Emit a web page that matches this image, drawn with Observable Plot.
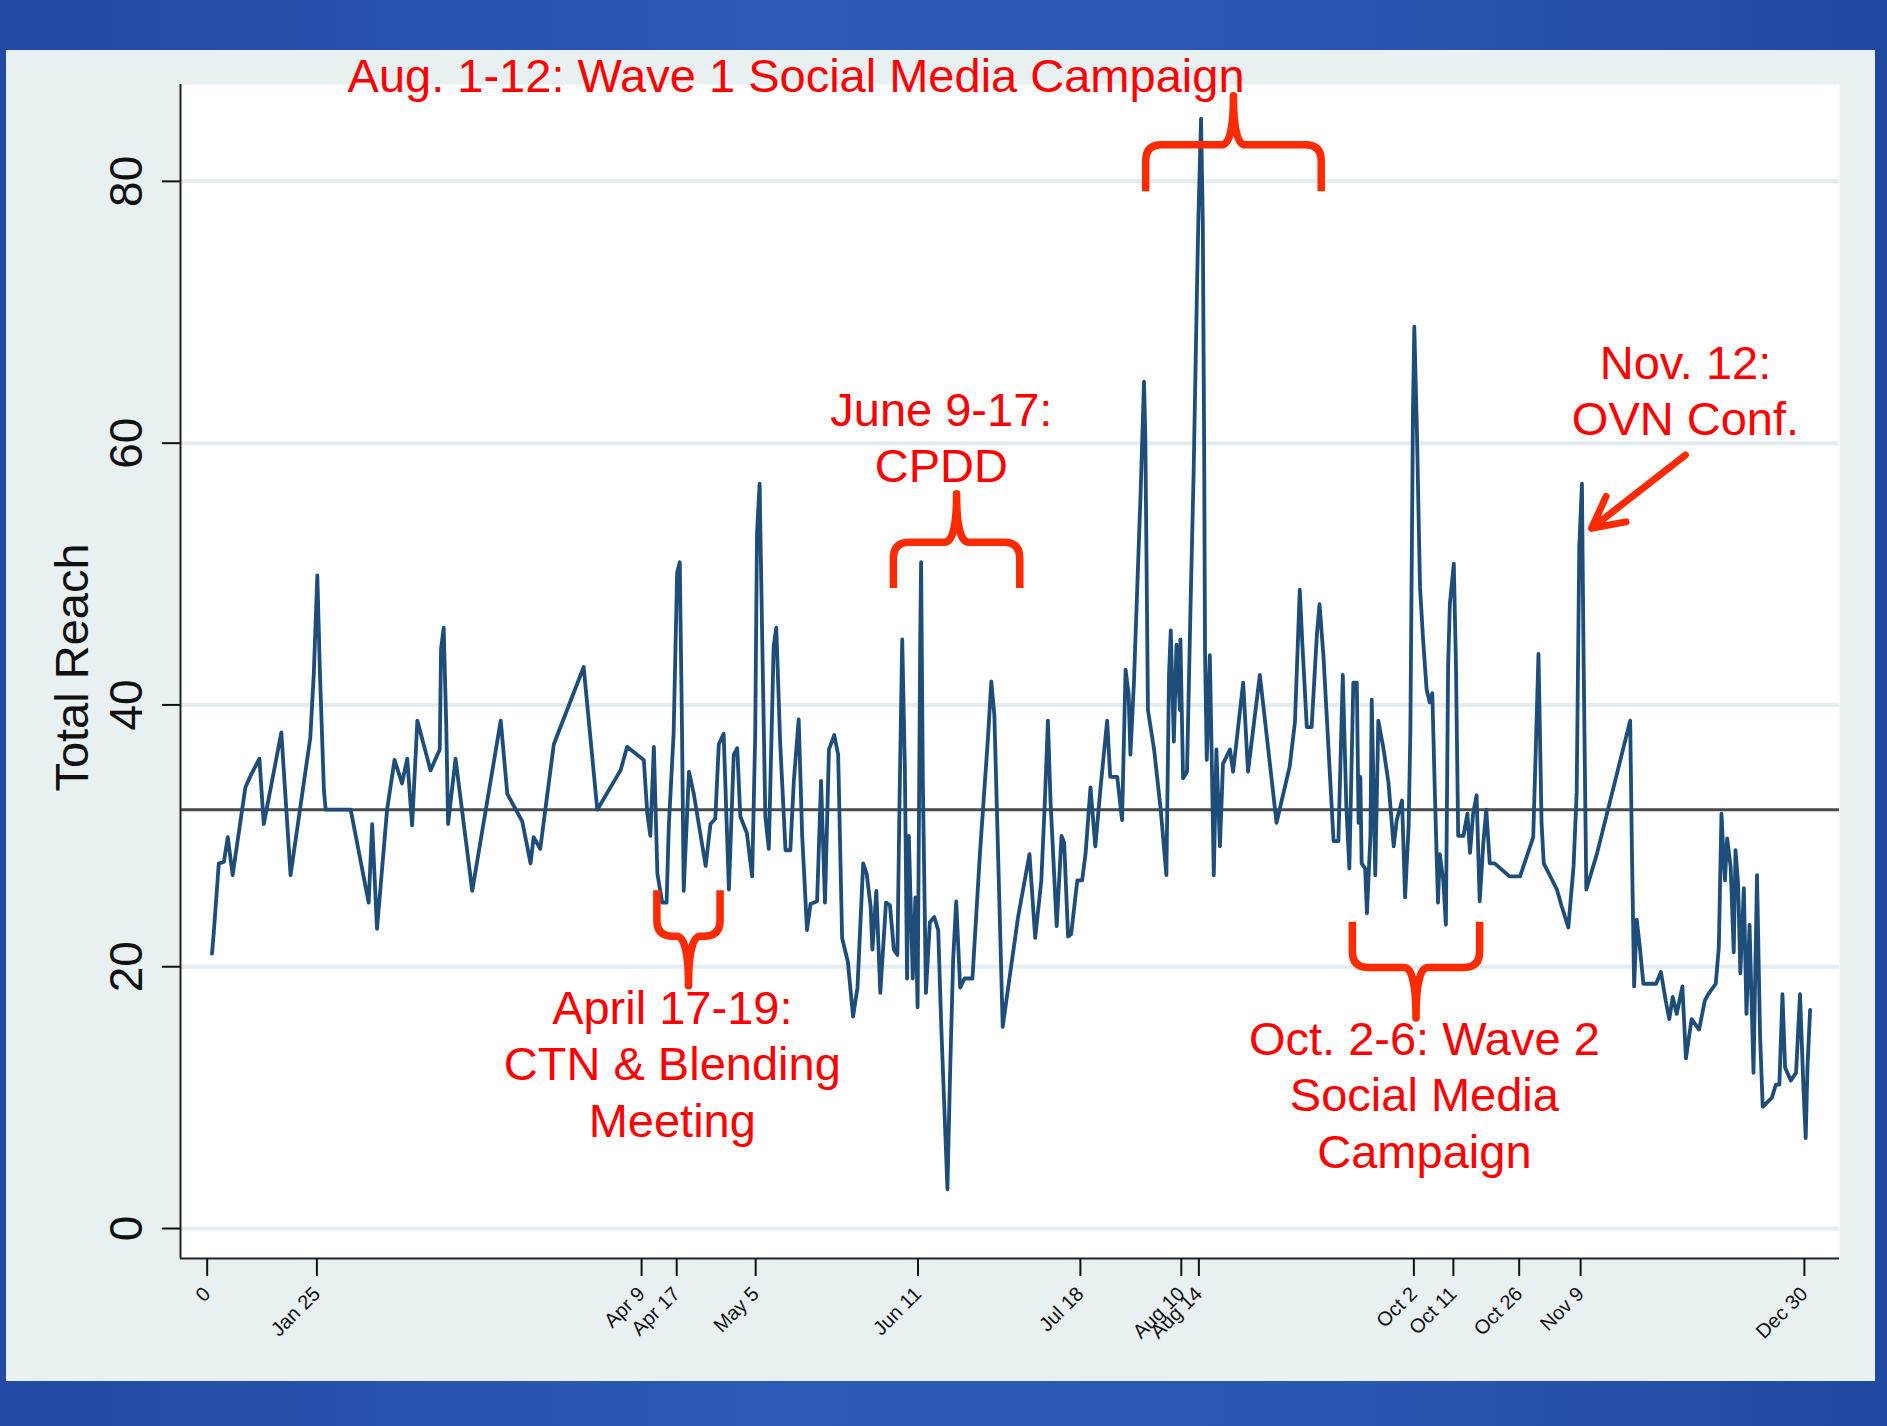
<!DOCTYPE html>
<html><head><meta charset="utf-8">
<script src="https://cdn.jsdelivr.net/npm/d3@7"></script>
<script src="https://cdn.jsdelivr.net/npm/@observablehq/plot@0.6"></script>
<style>
html,body{margin:0;padding:0;}
body{width:1887px;height:1426px;overflow:hidden;position:relative;background:linear-gradient(90deg,#2249a3 0%,#2c5ab6 40%,#2a57b2 70%,#2148a0 100%);font-family:"Liberation Sans",Arial,sans-serif;}
#panel{position:absolute;left:6px;top:50px;width:1869px;height:1331px;background:#e8f0f2;}
#chart{position:absolute;left:0;top:0;}
</style></head><body>
<div id="panel"></div><div id="chart"></div>
<script>
// Day of year (0 = Dec 31 of previous year) and total reach
const days = [1.1,1.5,2.65,3.8,4.7,5.8,8.7,9.9,11.9,12.9,16.9,19,23.5,24.3,25.1,25.7,26.6,27,32.7,36.8,37.6,38.7,41,42.7,44.4,45.6,46.7,47.9,50.9,53,53.3,53.9,54.5,54.9,56.6,60.4,66.9,
68.4,71.8,73.7,74.4,75.9,79,85.8,88.9,94.2,95.7,99.5,100.3,101,101.8,102.6,103.7,104.7,105.2,106.3,107.1,107.7,108.2,108.6,109.8,110.9,113.6,114.7,115.8,116.6,117.7,118.9,120,120.8,121.5,123,124.2,124.9,125.3,125.9,126.5,127.2,128,129.1,129.7,130.6,131.8,132.9,133.7,134.8,135.6,136.7,137.5,139,
139.9,140.8,141.7,142.9,143.8,144.7,146,147.2,148.2,149.5,150.3,151.2,151.6,152.5,153.4,154.7,155.6,156.5,157.3,157.8,158.4,159,159.5,159.9,160.8,161.4,161.9,162.5,162.7,163.1,163.8,164.7,165.7,166.6,167.3,168.7,169.3,170,170.7,171.6,172.6,174.4,176.1,177.9,178.7,179.4,181.3,182.2,184.8,187.4,188.7,190.1,190.9,191.6,192.2,193.6,
194.7,195.3,196.2,196.9,198.3,199.4,200.2,201.3,202.4,203.6,205.1,205.8,207.4,208.5,
209.3,210,210.4,211.2,211.9,212.7,213.5,213.8,214.4,215.8,217.3,218.6,219.2,219.6,220.3,220.9,221.7,221.8,222.4,223.3,224.1,224.8,225.6,225.9,226.5,226.9,227.2,227.4,227.8,228.5,228.9,229.4,230,230.8,231.5,233.1,233.8,236.1,237.2,239.9,243.7,246.7,247.9,249,249.6,250.6,251.7,252.9,253.5,254.4,256.7,257.8,258.8,259.6,260.3,261.2,262,262.4,262.8,263.1,263.9,264.3,265.1,265.4,266.2,266.9,268.1,269.2,270.4,271.1,272.3,273,273.8,274.2,274.8,275.1,275.7,276.4,
277.1,277.9,278.6,279.2,279.8,280.5,280.9,281.7,282.3,282.8,283.2,284.1,284.6,285.1,286.3,287.2,287.8,288.5,289.3,290,290.8,291.5,292.3,293.4,296.8,299.2,302.2,302.8,303.4,304.1,304.6,307.6,308.7,310.2,311.4,312.1,312.7,313.3,313.7,314.3,316.7,324.3,
324.7,325.2,325.8,326.5,327.3,330.2,331.3,332.4,333.2,334,334.9,336.2,337,338.3,340,341.3,342.1,343.8,344.5,345.1,345.5,345.9,346.4,347.2,347.9,348.3,348.9,349.4,350.2,350.8,351.5,352.4,353.2,353.9,354.5,355.4,356.6,357.5,358.3,359,359.6,360.9,362.1,363,363.8,364.3,364.7,365.3];
const reach = [21,22.6,27.9,28,29.9,27,33.7,34.6,35.9,30.9,37.9,27,37.5,42.4,49.9,42.4,33.5,32,32,24.9,30.9,22.9,32,35.8,34,35.9,30.8,38.8,35,36.6,44.3,45.9,38.2,30.9,35.9,25.8,38.8,
33.2,31.1,27.9,29.9,29,37,42.9,32,35,36.8,35.8,31.7,30,36.8,27.1,24.9,24.9,30.7,37.8,50.1,50.9,38.4,25.8,34.9,33.2,27.7,30.9,31.3,37,37.8,25.9,36.2,36.7,31.5,30.2,26.9,37.8,53.1,56.9,44.9,31.5,29,44.5,45.9,37,28.9,28.9,34.2,38.9,30,22.8,24.8,25,
34.2,24.9,36.6,37.7,36.2,22.2,20.4,16.2,18.4,27.9,27.1,24.6,21.3,25.8,18,24.9,24.7,21.3,20.9,33,45,35.2,19.1,30,19.1,25.3,16.9,45,50.9,34.1,18,23.4,23.8,22.8,15.4,3,11.8,20.5,25,18.4,19.1,19.1,28.6,37.3,41.8,39.2,15.4,17.6,23.8,28.6,22.2,26.6,32.6,38.8,32.6,23.1,
30,29.5,22.3,22.5,26.6,26.6,28.7,33.7,29.2,33.7,38.8,34.5,34.5,31.2,
42.7,40.8,36.2,41.7,48.4,55.9,64.7,60.5,39.6,36.6,32,27,42.3,45.7,37.2,44.6,39.6,45,34.4,34.9,47.5,57.6,72.3,77.3,84.8,76.9,60.1,44.2,35.8,43.8,36.6,27,36.6,29.2,35.5,36.6,34.9,41.7,34.9,42.3,31,35.3,38.7,48.8,44.6,38.3,38.3,45.4,47.7,43.7,29.6,29.6,42.3,32.3,27.5,41.7,41.7,31,34.5,27.9,27.5,24.1,30,40.4,27,38.8,36.6,34.1,29.2,31.2,32.7,25.3,30.7,37.9,62.6,68.9,60.9,49,
45,41.2,40.2,40.9,33.1,24.9,28.6,26.6,23.2,42.9,47.7,50.8,42.9,30,30,31.7,28.7,31.7,33.1,25,29.3,32,27.9,27.9,26.9,26.9,29.9,36.8,43.9,31,27.9,25.9,24.6,23,27.7,33.3,52.1,56.9,42.9,25.9,28.6,38.8,
28.7,18.5,23.6,21.5,18.7,18.7,19.6,17.4,16,17.7,16.4,18.5,13,16,15.2,17.4,17.9,18.7,21.5,31.7,28.9,26.6,29.8,27.6,21.1,28.9,26.3,19.5,26,16.4,23.2,11.9,27,14.7,9.3,9.6,10,11,11,17.9,12.3,11.3,11.9,17.9,10.6,6.9,12.3,16.7];

const meanReach = [32];
const xDomain = [-6.08, 372.0];
const yDomain = [-2.29, 87.4];
const yTicks = [0, 20, 40, 60, 80];
const xTickDays = [0, 25, 99, 107, 125, 162, 199, 222, 226, 275, 284, 299, 313, 364];
const xTickLabels = ["0","Jan 25","Apr 9","Apr 17","May 5","Jun 11","Jul 18","Aug 10","Aug 14","Oct 2","Oct 11","Oct 26","Nov 9","Dec 30"];
const yTitle = ["Total Reach"];

// annotations (positions in data units)
const noteDay = [134.2, 167.3, 106.0, 277.4, 336.9];
const noteVal = [86.8, 57.0, 7.03, 4.66, 60.6];
const noteText = ["Aug. 1-12: Wave 1 Social Media Campaign", "June 9-17:\nCPDD", "April 17-19:\nCTN & Blending\nMeeting", "Oct. 2-6: Wave 2\nSocial Media\nCampaign", "Nov. 12:\nOVN Conf."];
const braceStart = [102.6, 156.5, 214.0, 261.1];
const braceEnd = [117.0, 185.3, 254.0, 290.1];
const braceLeg = [25.8, 48.9, 79.2, 23.4];
const braceBar = [22.3, 52.4, 82.75, 19.9];
const braceTip = [18.5, 56.1, 86.5, 16.05];
const arrowFrom = [336.9, 59.1];
const arrowTo = [315.5, 53.5];

const red = "#ff0000", braceRed = "#ff2a00";

const plot = Plot.plot({
  width: 1887, height: 1426,
  marginLeft: 180, marginRight: 48, marginTop: 84, marginBottom: 168,
  style: {background: "transparent", fontFamily: "Liberation Sans, Arial, sans-serif", overflow: "visible"},
  x: {domain: xDomain},
  y: {domain: yDomain},
  marks: [
    Plot.frame({fill: "white", stroke: "none"}),
    Plot.gridY(yTicks, {stroke: "#e3edf1", strokeOpacity: 1, strokeWidth: 4}),
    Plot.ruleY(meanReach, {stroke: "#4a4a4a", strokeWidth: 3}),
    Plot.line(reach, {x: days, y: reach, stroke: "#1d4d78", strokeWidth: 3.8, strokeLinejoin: "round"}),
    Plot.ruleX([xDomain[0]], {stroke: "#222", strokeWidth: 2}),
    Plot.ruleY([yDomain[0]], {stroke: "#222", strokeWidth: 2}),
    Plot.axisY(yTicks, {tickSize: 18, tickRotate: -90, tickPadding: 21, fontSize: 46, color: "#111", strokeWidth: 2, label: null}),
    Plot.axisX(xTickDays, {tickSize: 18, tickRotate: -45, tickPadding: 14, fontSize: 20, color: "#111", strokeWidth: 2, label: null,
      tickFormat: d => xTickLabels[xTickDays.indexOf(d)]}),
    Plot.text(yTitle, {frameAnchor: "left", rotate: -90, dx: -93, dy: -4, lineAnchor: "bottom", textAnchor: "middle", fontSize: 47, fill: "#111"}),
    Plot.text(noteText, {x: noteDay, y: noteVal, text: noteText, fill: red, fontSize: 47, textAnchor: "middle", lineAnchor: "bottom", lineHeight: 1.2}),
    Plot.arrow([0], {x1: [arrowFrom[0]], y1: [arrowFrom[1]], x2: [arrowTo[0]], y2: [arrowTo[1]], stroke: braceRed, strokeWidth: 7, headLength: 7.5, headAngle: 55})
  ]
});
document.getElementById("chart").appendChild(plot);

// braces drawn through the plot's own scales
const sx = plot.scale("x"), sy = plot.scale("y");
function bracePath(x0, x1, yLeg, yBar, yTip) {
  const s = Math.sign(yLeg - yBar);
  const r = Math.min(16, Math.abs(yLeg - yBar) * 0.6);
  const xm = (x0 + x1) / 2, w = 12;
  return `M${x0},${yLeg} L${x0},${yBar + s * r} Q${x0},${yBar} ${x0 + r},${yBar} L${xm - w},${yBar} Q${xm},${yBar} ${xm},${yTip} Q${xm},${yBar} ${xm + w},${yBar} L${x1 - r},${yBar} Q${x1},${yBar} ${x1},${yBar + s * r} L${x1},${yLeg}`;
}
const svg = d3.select(plot);
braceStart.forEach((_, i) => {
  svg.append("path")
    .attr("d", bracePath(sx.apply(braceStart[i]), sx.apply(braceEnd[i]), sy.apply(braceLeg[i]), sy.apply(braceBar[i]), sy.apply(braceTip[i])))
    .attr("fill", "none").attr("stroke", braceRed).attr("stroke-width", 7.5)
    .attr("stroke-linejoin", "round").attr("stroke-linecap", "butt");
});
</script></body></html>
